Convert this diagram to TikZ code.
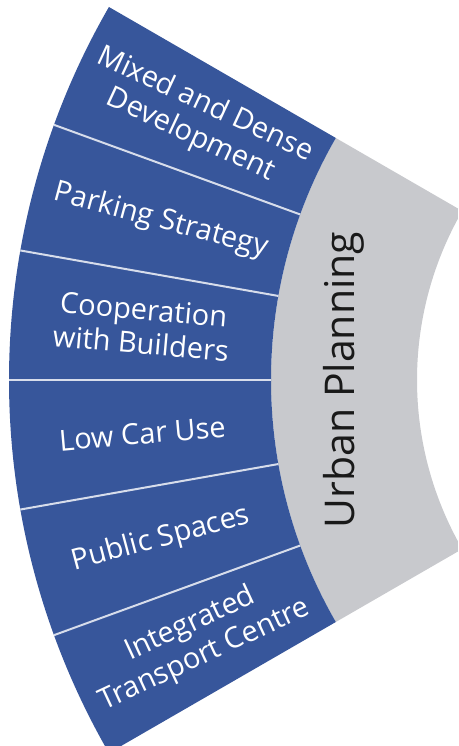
\documentclass[tikz,border=0pt]{standalone}
\usepackage{fontspec}
\setmainfont{Open Sans}
\definecolor{planblue}{RGB}{55,86,155}
\definecolor{plangray}{RGB}{200,201,205}
\begin{document}
\begin{tikzpicture}[x=1pt,y=1pt, line join=round]
	\tikzset{seglabel/.style={text=white, align=center, inner sep=0pt, font=\fontsize{29}{34}\selectfont}}
	\def\rin{338}\def\rmid{484}\def\rout{746}
	\useasboundingbox (-755,-366) rectangle (-297,380);
	% inner band, cut by the page edge
	\begin{scope}
		\clip (-755,-366) rectangle (-297,380);
		\fill[plangray] (150:\rin) arc[start angle=150, end angle=210, radius=\rin]
		-- (210:\rmid) arc[start angle=210, end angle=150, radius=\rmid] -- cycle;
	\end{scope}
	\fill[planblue] (150:\rmid) arc[start angle=150, end angle=210, radius=\rmid]
	-- (210:\rout) arc[start angle=210, end angle=150, radius=\rout] -- cycle;
	\foreach \a in {160,170,...,200}
	\draw[white!80!planblue, line width=2pt] (\a:\rmid)--(\a:\rout);
	\foreach \a/\name/\txt in {155/mixed/{Mixed and Dense\\Development},
		165/parking/{Parking Strategy},
		175/coop/{Cooperation\\with Builders},
		185/lowcar/{Low Car Use},
		195/public/{Public Spaces},
		205/transport/{Integrated\\Transport Centre}}
	\node[seglabel, rotate=\a-180] (\name) at (\a:615) {\txt};
	\node[rotate=90, text=black!90, inner sep=0pt, font=\fontsize{41}{41}\selectfont] (urban) at (180:411) {Urban Planning};
\end{tikzpicture}
\end{document}
